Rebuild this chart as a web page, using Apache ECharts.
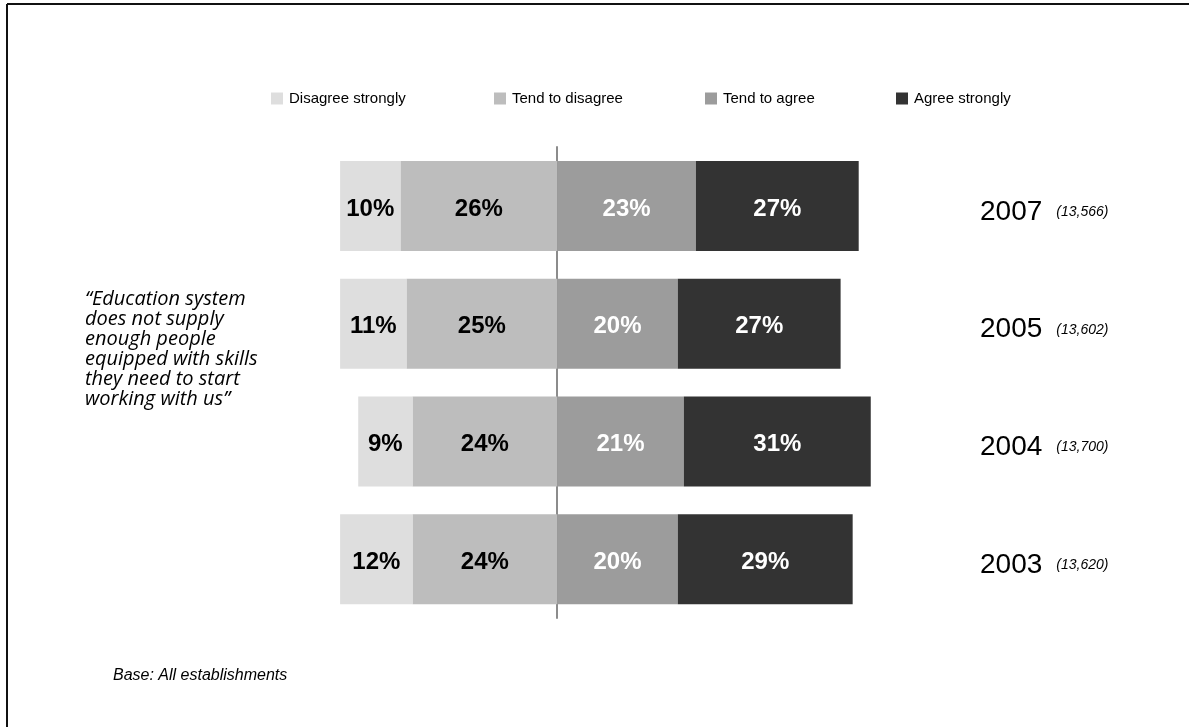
<!DOCTYPE html>
<html>
<head>
<meta charset="utf-8">
<script src="https://cdn.jsdelivr.net/npm/echarts@6/dist/echarts.min.js"></script>
<style>
html,body{margin:0;padding:0;background:#fff;}
#c{width:1189px;height:727px;}
</style>
</head>
<body>
<div id="c"></div>
<script>
var years = ['2007', '2005', '2004', '2003'];
var bases = ['13,566', '13,602', '13,700', '13,620'];
var seriesNames = ['Disagree strongly', 'Tend to disagree', 'Tend to agree', 'Agree strongly'];
var disagreeStrongly = [10, 11, 9, 12];
var tendToDisagree = [26, 25, 24, 24];
var tendToAgree = [23, 20, 21, 20];
var agreeStrongly = [27, 27, 31, 29];
var quoteLines = ['\u201cEducation system', 'does not supply', 'enough people', 'equipped with skills', 'they need to start', 'working with us\u201d'];
var baseNote = 'Base: All establishments';

var colors = {
  'Disagree strongly': '#dedede',
  'Tend to disagree': '#bdbdbd',
  'Tend to agree': '#9c9c9c',
  'Agree strongly': '#333333'
};
var labelColors = {
  'Disagree strongly': '#000',
  'Tend to disagree': '#000',
  'Tend to agree': '#fff',
  'Agree strongly': '#fff'
};

function neg(a) { return a.map(function (v) { return -v; }); }

function mkSeries(name, data) {
  return {
    name: name,
    type: 'bar',
    stack: 'total',
    barWidth: 90,
    data: data,
    itemStyle: { color: colors[name] },
    label: {
      show: true,
      position: 'inside',
      offset: [0, 3],
      formatter: function (p) { return Math.abs(p.value) + '%'; },
      color: labelColors[name],
      fontFamily: 'Liberation Sans, Arial, sans-serif',
      fontWeight: 'bold',
      fontSize: 24
    },
    emphasis: { disabled: true }
  };
}

var legendLefts = [271, 494, 705, 896];
var legends = seriesNames.map(function (n, i) {
  return {
    data: [n],
    left: legendLefts[i],
    top: 91,
    padding: 0,
    icon: 'rect',
    itemWidth: 12,
    itemHeight: 12,
    selectedMode: false,
    textStyle: { fontFamily: 'Liberation Sans, Arial, sans-serif', fontSize: 15, color: '#000', padding: [0, 0, 0, 1] }
  };
});

var graphics = [
  { type: 'line', shape: { x1: 7, y1: 4, x2: 1189, y2: 4 }, style: { stroke: '#111', lineWidth: 2 } },
  { type: 'line', shape: { x1: 7, y1: 4, x2: 7, y2: 727 }, style: { stroke: '#111', lineWidth: 2 } },
  {
    type: 'text', left: 85, top: 289,
    style: {
      text: quoteLines.join('\n'),
      font: 'italic 20px "Open Sans", sans-serif',
      lineHeight: 20,
      fill: '#000'
    }
  },
  {
    type: 'text', left: 113, top: 668,
    style: { text: baseNote, font: 'italic 16px "Liberation Sans", Arial, sans-serif', fill: '#000' }
  }
];

var option = {
  animation: false,
  backgroundColor: '#fff',
  legend: legends,
  graphic: graphics,
  grid: { left: 316, width: 603, top: 147, height: 471 },
  xAxis: { type: 'value', min: -40, max: 60, show: false },
  yAxis: [
    {
      type: 'category', data: years, inverse: true,
      axisLine: { show: true, onZero: true, lineStyle: { color: '#8c8c8c', width: 2 } },
      axisTick: { show: false }, axisLabel: { show: false }, splitLine: { show: false }
    },
    {
      type: 'category', data: years, inverse: true, position: 'right',
      axisLine: { show: false }, axisTick: { show: false }, splitLine: { show: false },
      axisLabel: {
        margin: 61,
        align: 'left',
        formatter: function (v, i) { return '{y|' + v + '}{n|(' + bases[i] + ')}'; },
        rich: {
          y: { fontFamily: 'Liberation Sans, Arial, sans-serif', fontSize: 28, color: '#000', padding: [12, 14, 0, 0] },
          n: { fontFamily: 'Liberation Sans, Arial, sans-serif', fontSize: 14, fontStyle: 'italic', color: '#000', padding: [12, 0, 0, 0] }
        }
      }
    }
  ],
  series: [
    mkSeries('Tend to disagree', neg(tendToDisagree)),
    mkSeries('Disagree strongly', neg(disagreeStrongly)),
    mkSeries('Tend to agree', tendToAgree),
    mkSeries('Agree strongly', agreeStrongly)
  ]
};

var chart = echarts.init(document.getElementById('c'), null, { renderer: 'canvas' });
chart.setOption(option);
</script>
</body>
</html>
